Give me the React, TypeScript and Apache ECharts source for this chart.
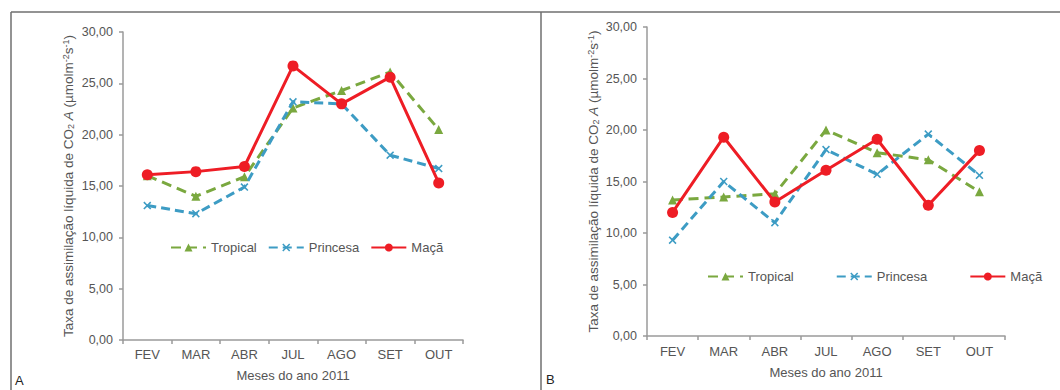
import React, { useEffect, useRef } from "react";
import * as echarts from "echarts";

const months = ["FEV", "MAR", "ABR", "JUL", "AGO", "SET", "OUT"];
const seriesNames = ["Tropical", "Princesa", "Maçã"];

const tropicalA = [16.0, 14.0, 15.9, 22.6, 24.3, 26.1, 20.5];
const princesaA = [13.1, 12.3, 14.9, 23.2, 23.0, 18.0, 16.7];
const macaA = [16.1, 16.4, 16.9, 26.7, 23.0, 25.6, 15.3];

const tropicalB = [13.2, 13.5, 13.8, 20.0, 17.8, 17.1, 14.0];
const princesaB = [9.3, 15.0, 11.0, 18.1, 15.7, 19.6, 15.6];
const macaB = [12.0, 19.3, 13.0, 16.1, 19.1, 12.7, 18.0];

const yMin = 0;
const yMax = 30;
const yStep = 5;
const xAxisTitle = "Meses do ano 2011";
const panelLetters = ["A", "B"];

const GREEN = "#7aa83f";
const BLUE = "#3d9cc4";
const RED = "#ee1d25";
const AXIS = "#9a9a9a";
const TEXT = "#555555";
const FONT = "Liberation Sans, Arial, sans-serif";

const X_SYMBOL =
  "path://M1.4,0 L5,3.6 L8.6,0 L10,1.4 L6.4,5 L10,8.6 L8.6,10 L5,6.4 L1.4,10 L0,8.6 L3.6,5 L0,1.4 Z";

export default function App() {
  const ref = useRef<HTMLDivElement>(null);

  useEffect(() => {
    if (!ref.current) return;
    const chart = echarts.init(ref.current, undefined, { renderer: "svg" });

    const grids = [
      { left: 123, top: 32, right: 597, bottom: 50 },
      { left: 647, top: 27, right: 55, bottom: 54 },
    ];

    const yTitle = "Taxa de assimilação líquida de CO{sub|2} {it|A} (µmolm{sup|-2}s{sup|-1})";

    const xAxes = grids.map((_, i) => ({
      type: "category",
      gridIndex: i,
      data: months,
      boundaryGap: true,
      axisLine: { lineStyle: { color: AXIS, width: 1.5 } },
      axisTick: { show: true, length: 4, lineStyle: { color: AXIS, width: 1.5 } },
      axisLabel: { color: TEXT, fontSize: 13, fontFamily: FONT, margin: i === 0 ? 8 : 9 },
      name: xAxisTitle,
      nameLocation: "middle",
      nameGap: i === 0 ? 29 : 30,
      nameTextStyle: { color: TEXT, fontSize: 13, fontFamily: FONT },
    }));

    const yAxes = grids.map((_, i) => ({
      type: "value",
      gridIndex: i,
      min: yMin,
      max: yMax,
      interval: yStep,
      splitLine: { show: false },
      axisLine: { show: true, lineStyle: { color: AXIS, width: 1.5 } },
      axisTick: { show: true, length: 4, lineStyle: { color: AXIS, width: 1.5 } },
      axisLabel: {
        color: TEXT,
        fontSize: 12.5,
        fontFamily: FONT,
        margin: 10,
        formatter: (v: number) => v.toFixed(2).replace(".", ","),
      },
      name: yTitle,
      nameLocation: "middle",
      nameGap: i === 0 ? 48 : 47,
      nameRotate: 90,
      nameTextStyle: {
        color: TEXT,
        fontSize: 13.5,
        fontFamily: FONT,
        rich: {
          sub: { fontSize: 9, verticalAlign: "bottom", color: TEXT, fontFamily: FONT, padding: [5, 0, 0, 0] },
          sup: { fontSize: 9, verticalAlign: "top", color: TEXT, fontFamily: FONT, padding: [0, 0, 5, 0] },
          it: { fontStyle: "italic", fontSize: 13.5, color: TEXT, fontFamily: FONT },
        },
      },
    }));

    const dataSets = [
      [tropicalA, princesaA, macaA],
      [tropicalB, princesaB, macaB],
    ];

    const series: any[] = [];
    dataSets.forEach((sets, gi) => {
      series.push({
        name: seriesNames[0],
        type: "line",
        xAxisIndex: gi,
        yAxisIndex: gi,
        data: sets[0],
        symbol: "triangle",
        symbolSize: 9,
        lineStyle: { color: GREEN, width: 3, type: [10, 6] },
        itemStyle: { color: GREEN },
        z: 2,
      });
      series.push({
        name: seriesNames[1],
        type: "line",
        xAxisIndex: gi,
        yAxisIndex: gi,
        data: sets[1],
        symbol: X_SYMBOL,
        symbolSize: 8,
        lineStyle: { color: BLUE, width: 3, type: [9, 5] },
        itemStyle: { color: BLUE },
        z: 3,
      });
      series.push({
        name: seriesNames[2],
        type: "line",
        xAxisIndex: gi,
        yAxisIndex: gi,
        data: sets[2],
        symbol: "circle",
        symbolSize: 11,
        lineStyle: { color: RED, width: 3 },
        itemStyle: { color: RED },
        z: 4,
      });
    });

    const legendBase = {
      orient: "horizontal",
      itemWidth: 35,
      itemHeight: 10,
      textStyle: { color: TEXT, fontSize: 13, fontFamily: FONT },
      data: seriesNames,
      selectedMode: false,
    };

    chart.setOption({
      animation: false,
      backgroundColor: "#ffffff",
      grid: grids.map((g) => ({ ...g, containLabel: false })),
      xAxis: xAxes,
      yAxis: yAxes,
      legend: [
        { ...legendBase, left: 165, top: 236, itemGap: 11 },
        { ...legendBase, left: 702, top: 265, itemGap: 42 },
      ],
      series,
      graphic: [
        { type: "line", shape: { x1: 11, y1: 12, x2: 1060, y2: 12 }, style: { stroke: "#6f6f6f", lineWidth: 1.5 } },
        { type: "line", shape: { x1: 11, y1: 12, x2: 11, y2: 390 }, style: { stroke: "#6f6f6f", lineWidth: 1.5 } },
        { type: "line", shape: { x1: 541, y1: 12, x2: 541, y2: 390 }, style: { stroke: "#6f6f6f", lineWidth: 1.5 } },
        {
          type: "text",
          left: 15,
          top: 374,
          style: { text: panelLetters[0], fill: "#222", font: `13px ${FONT}` },
        },
        {
          type: "text",
          left: 546,
          top: 373,
          style: { text: panelLetters[1], fill: "#222", font: `13px ${FONT}` },
        },
      ],
    });

    return () => chart.dispose();
  }, []);

  return (
    <div
      ref={ref}
      style={{ position: "absolute", left: 0, top: 0, width: 1060, height: 390, background: "#fff" }}
    />
  );
}
